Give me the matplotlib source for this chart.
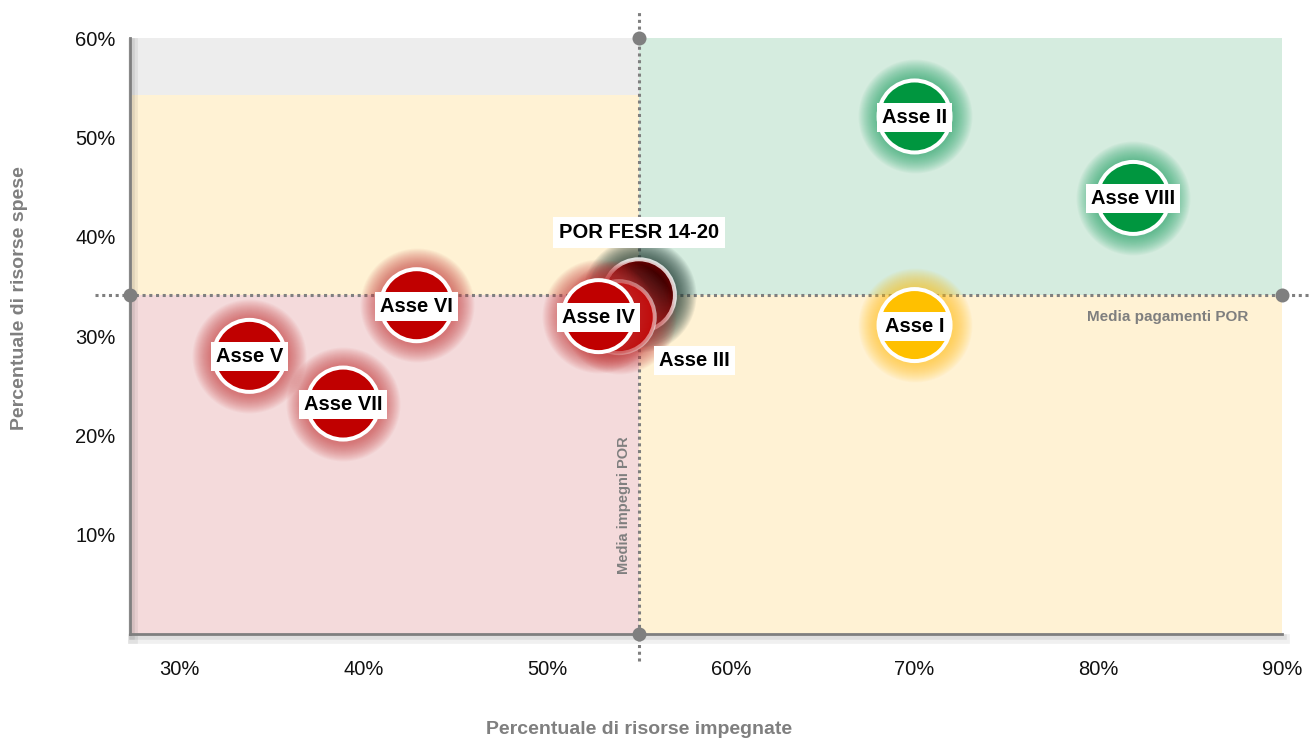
import numpy as np
import matplotlib
matplotlib.use("Agg")
import matplotlib.pyplot as plt
import matplotlib.patheffects as pe
from matplotlib.colors import to_rgb

plt.rcParams['font.family'] = ['Liberation Sans', 'DejaVu Sans']

# ---------------- data ----------------
labels = ["Asse I", "Asse II", "Asse III", "Asse IV", "Asse V", "Asse VI", "Asse VII", "Asse VIII"]
impegni = [70.0, 70.0, 53.9, 52.8, 33.8, 42.9, 38.9, 81.9]     # % risorse impegnate (x)
spese = [31.1, 52.1, 31.9, 32.0, 28.0, 33.1, 23.2, 43.9]       # % risorse spese (y)
colors = ["#FFC000", "#00963F", "#C00000", "#C00000", "#C00000", "#C00000", "#C00000", "#00963F"]
glows = ["#FFC21A", "#22A466", "#C83C3C", "#C83C3C", "#C83C3C", "#C83C3C", "#C83C3C", "#22A466"]

por_label = "POR FESR 14-20"
por_impegni = 55.0
por_spese = 34.1

grey_band_low = 54.3   # upper-left grey band start
x_ticks = [30, 40, 50, 60, 70, 80, 90]
y_ticks = [10, 20, 30, 40, 50, 60]
x_min, x_max = 27.3, 90.0
y_min, y_max = 0.0, 60.0

# ---------------- figure ----------------
W, H, DPI = 1312, 742, 100
fig = plt.figure(figsize=(W / DPI, H / DPI), dpi=DPI)
ax = fig.add_axes([130 / W, 1 - 634 / H, (1282 - 130) / W, (634 - 38) / H])
ax.set_xlim(x_min, x_max)
ax.set_ylim(y_min, y_max)
ax.set_facecolor("none")

PX = 72.0 / DPI  # points per pixel

# quadrant backgrounds
ax.fill_between([x_min, por_impegni], grey_band_low, y_max, color="#EDEDED", lw=0, zorder=0)
ax.fill_between([x_min, por_impegni], por_spese, grey_band_low, color="#FFF2D4", lw=0, zorder=0)
ax.fill_between([x_min, por_impegni], y_min, por_spese, color="#F4DADB", lw=0, zorder=0)
ax.fill_between([por_impegni, x_max], por_spese, y_max, color="#D5ECDF", lw=0, zorder=0)
ax.fill_between([por_impegni, x_max], y_min, por_spese, color="#FFF2D4", lw=0, zorder=0)

# spines with soft shadow
for s in ["top", "right"]:
    ax.spines[s].set_visible(False)
for s in ["left", "bottom"]:
    sp = ax.spines[s]
    sp.set_color("#7F7F7F")
    sp.set_linewidth(2.0)
    sp.set_zorder(3)
    sp.set_path_effects([
        pe.SimpleLineShadow(offset=(2.5, -3.5), shadow_color="black", alpha=0.06, linewidth=7),
        pe.SimpleLineShadow(offset=(1.5, -2.0), shadow_color="black", alpha=0.07, linewidth=4),
        pe.Normal()])

# mean lines
ax.axhline(por_spese, xmin=-0.03, xmax=1.03, color="#7F7F7F", lw=2.2,
           linestyle=(0, (1, 1.2)), clip_on=False, zorder=2)
ax.axvline(por_impegni, ymin=-0.045, ymax=1.047, color="#7F7F7F", lw=2.2,
           linestyle=(0, (1, 1.2)), clip_on=False, zorder=2)
ax.scatter([x_min, x_max, por_impegni, por_impegni], [por_spese, por_spese, y_max, y_min],
           s=(14 * PX) ** 2, color="#7F7F7F", zorder=4, clip_on=False, linewidths=0)

ax.annotate("Media pagamenti POR", (x_max, por_spese), xytext=(-34 * PX, -22 * PX),
            textcoords="offset points", color="#7F7F7F",
            fontsize=11, fontweight="bold", ha="right", va="center", zorder=3)
ax.annotate("Media impegni POR", (por_impegni, y_min), xytext=(-15 * PX, 129 * PX),
            textcoords="offset points", color="#7F7F7F",
            fontsize=10.5, fontweight="bold", ha="center", va="center", rotation=90, zorder=3)

# ---------------- bubbles ----------------
R_FILL = 36  # px
RING = 4     # px
GLOW = 19    # px


def bubble(x, y, col, z, glow_col, ring_alpha=1.0, gradient=None, glow_alpha=0.045):
    n = 20
    for k in range(n, 0, -1):
        r = R_FILL + RING / 2 + GLOW * k / n
        ax.scatter([x], [y], s=(2 * r * PX) ** 2, color=glow_col, alpha=glow_alpha,
                   linewidths=0, zorder=z)
    if gradient is None:
        ax.scatter([x], [y], s=(2 * R_FILL * PX) ** 2, color=col, linewidths=0, zorder=z + 0.1)
    else:
        c0, c1 = np.array(to_rgb(gradient[0])), np.array(to_rgb(gradient[1]))
        m = 24
        for k in range(m, 0, -1):
            t = k / m
            c = c0 * (1 - t ** 2) + c1 * t ** 2
            ax.scatter([x], [y], s=(2 * R_FILL * t * PX) ** 2, color=c, linewidths=0, zorder=z + 0.1)
    ax.scatter([x], [y], s=(2 * R_FILL * PX) ** 2, facecolors="none",
               edgecolors=(1, 1, 1, ring_alpha), linewidths=RING * PX, zorder=z + 0.2)


box = dict(boxstyle="square,pad=0.25", fc="white", ec="none")

# POR (behind)
bubble(por_impegni, por_spese, "#000000", 5, glow_col="#1F3A33",
       ring_alpha=0.8, gradient=("#000000", "#6A0000"), glow_alpha=0.055)
ax.annotate(por_label, (por_impegni, por_spese), xytext=(0, 63 * PX), textcoords="offset points",
            ha="center", va="center", fontsize=14.5, fontweight="bold", color="black",
            bbox=dict(boxstyle="square,pad=0.3", fc="white", ec="none"), zorder=20)

order = [2, 3, 0, 1, 4, 5, 6, 7]
for i in order:
    x, y, c, lab = impegni[i], spese[i], colors[i], labels[i]
    z = 6 + order.index(i) * 1.0
    ring_a = 0.6 if lab == "Asse III" else 1.0
    bubble(x, y, c, z, glows[i], ring_alpha=ring_a)
    if lab == "Asse III":
        ax.annotate(lab, (x, y), xytext=(76 * PX, -43 * PX), textcoords="offset points",
                    ha="center", va="center", fontsize=14.5, fontweight="bold",
                    color="black", bbox=box, zorder=20)
    else:
        ax.annotate(lab, (x, y), xytext=(0, -1 * PX), textcoords="offset points",
                    ha="center", va="center", fontsize=14.5, fontweight="bold",
                    color="black", bbox=box, zorder=z + 0.5)

# ---------------- ticks & labels ----------------
ax.set_xticks(x_ticks)
ax.set_xticklabels([f"{v}%" for v in x_ticks])
ax.set_yticks(y_ticks)
ax.set_yticklabels([f"{v}%" for v in y_ticks])
ax.tick_params(axis="both", length=0, labelsize=14.5, colors="#111111")
ax.tick_params(axis="x", pad=19)
ax.tick_params(axis="y", pad=10.5)

fig.text(639 / W, 1 - 730 / H, "Percentuale di risorse impegnate", color="#7F7F7F",
         fontsize=14, fontweight="bold", ha="center", va="center")
fig.text(20 / W, 1 - 298 / H, "Percentuale di risorse spese", color="#7F7F7F",
         fontsize=14, fontweight="bold", ha="center", va="center", rotation=90)

fig.savefig("out.png", dpi=DPI, facecolor="white")
